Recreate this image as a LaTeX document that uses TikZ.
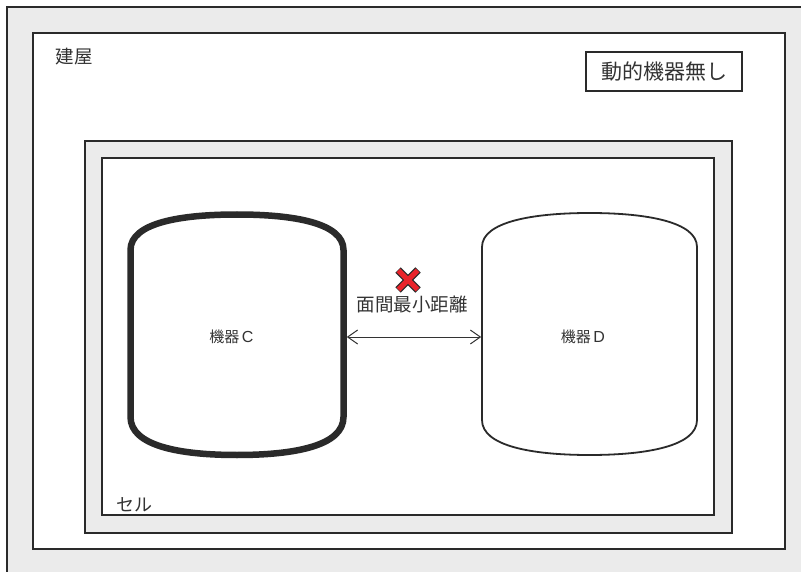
\documentclass[tikz,border=0pt]{standalone}
\usepackage{fontspec}
\setmainfont{Noto Sans CJK JP}
\newfontfamily\latinsans{Liberation Sans}
\usetikzlibrary{arrows.meta,calc}
\definecolor{bggray}{HTML}{EBEBEB}
\definecolor{linegray}{HTML}{2A2A2A}
\definecolor{txtgray}{HTML}{333333}
\definecolor{xred}{HTML}{E8232A}
\tikzset{
  frame/.style={draw=linegray, line width=1.6pt},
  lbl/.style={text=txtgray, inner sep=0pt, anchor=center},
  vesselthick/.style={draw=linegray, line width=6.5pt, fill=white, line join=round},
  vesselthin/.style={draw=linegray, line width=1.8pt, fill=white},
  dimarrow/.style={draw=txtgray, line width=1pt, {Straight Barb[length=10pt,width=14pt]}-{Straight Barb[length=10pt,width=14pt]}},
}
\begin{document}
\begin{tikzpicture}[x=1pt,y=-1pt]
\useasboundingbox (0,0) rectangle (801,572);
\fill[white] (0,0) rectangle (801,572);
% outer grey area
\fill[bggray] (7,7) rectangle (801,572);
\draw[frame] (7,572) -- (7,7) -- (801,7);
% building
\draw[frame, fill=white] (33,33) rectangle (785,549);
\node[lbl, font=\fontsize{18.5}{20}\selectfont] (bldg) at (74,57) {建屋};
% no active equipment box
\node[frame, fill=white, minimum width=156pt, minimum height=39pt, inner sep=0pt,
      text=txtgray, font=\fontsize{21}{23}\selectfont] (noact) at (664,71.5) {動的機器無し};
% cell
\draw[frame, fill=bggray] (85,141) rectangle (732,533);
\draw[frame, fill=white] (102,158) rectangle (714,515);
\node[lbl, font=\fontsize{18}{20}\selectfont] (cell) at (134.5,505) {セル};
% vessel C
\draw[vesselthick] (130.5,250) -- (130.5,417)
  .. controls (130.5,446) and (180,455) .. (237,455)
  .. controls (294,455) and (343.5,446) .. (343.5,417)
  -- (343.5,250)
  .. controls (343.5,223) and (294,214.5) .. (237,214.5)
  .. controls (180,214.5) and (130.5,223) .. cycle;
% vessel D
\draw[vesselthin] (482,247) -- (482,420)
  .. controls (482,446) and (532,455) .. (589.5,455)
  .. controls (647,455) and (697,446) .. (697,420)
  -- (697,247)
  .. controls (697,222) and (647,213) .. (589.5,213)
  .. controls (532,213) and (482,222) .. cycle;
\coordinate (cR) at (346.8,337);
\coordinate (dL) at (481.2,337);
\node[lbl, font=\fontsize{15}{17}\selectfont] (vc) at (231.5,337) {機器\,{\latinsans\fontsize{16}{17}\selectfont C}};
\node[lbl, font=\fontsize{15}{17}\selectfont] (vd) at (583,337) {機器\,{\latinsans\fontsize{16}{17}\selectfont D}};
% dimension arrow
\draw[dimarrow] (cR) -- (dL);
\node[lbl, font=\fontsize{18.5}{20}\selectfont] (dist) at (412,304) {面間最小距離};
% red cross
\coordinate (xc) at (408,280);
\draw[linegray, line width=7.5pt] ($(xc)+(-10,-10)$) -- ($(xc)+(10,10)$);
\draw[linegray, line width=7.5pt] ($(xc)+(-10,10)$) -- ($(xc)+(10,-10)$);
\draw[xred, line width=5pt] ($(xc)+(-9.6,-9.6)$) -- ($(xc)+(9.6,9.6)$);
\draw[xred, line width=5pt] ($(xc)+(-9.6,9.6)$) -- ($(xc)+(9.6,-9.6)$);
\end{tikzpicture}
\end{document}
